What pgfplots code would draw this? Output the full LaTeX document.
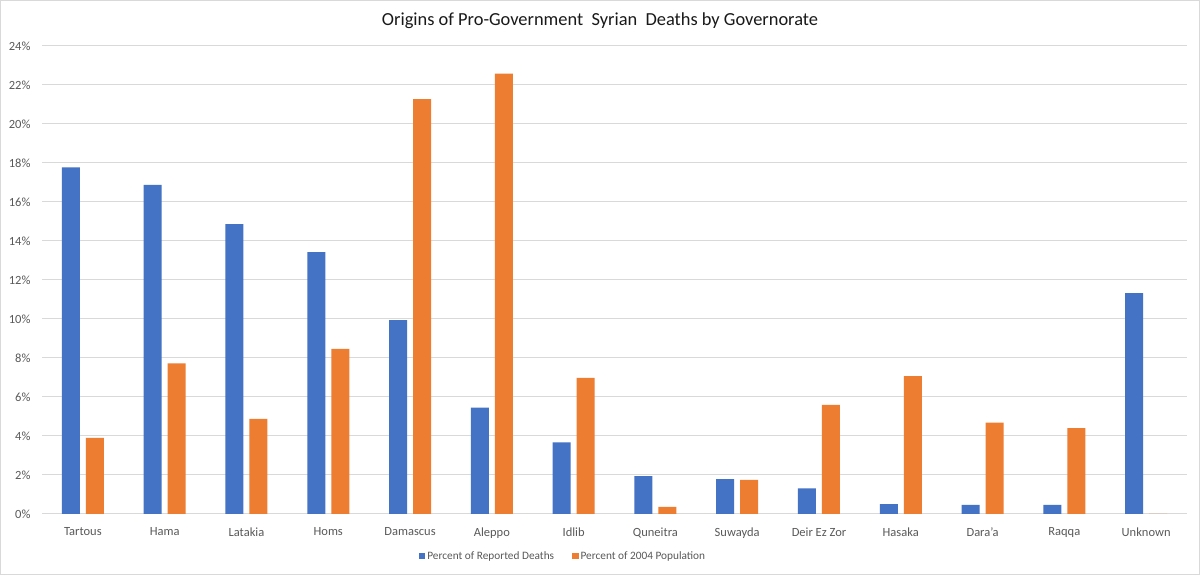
\documentclass[border=0pt]{standalone}
\usepackage{pgfplots}
\pgfplotsset{compat=1.18}
\usepackage{fontspec}
\setmainfont{Carlito}
\definecolor{cblue}{HTML}{4472C4}
\definecolor{corange}{HTML}{ED7D31}
\definecolor{cgrid}{HTML}{D9D9D9}
\definecolor{ctext}{HTML}{595959}
\begin{document}
\begin{tikzpicture}[x=1bp,y=1bp]
\path[use as bounding box] (0,0) rectangle (1200,575);
\fill[white] (0,0) rectangle (1200,575);
\draw[cgrid, line width=1bp] (0.5,0.5) rectangle (1199.5,574.5);
\node[font=\fontsize{18.4bp}{20bp}\selectfont, text=black!90] at (600,554) {Origins of Pro-Government\ \ Syrian\ \ Deaths by Governorate};
\begin{axis}[
  at={(42bp,61bp)}, anchor=south west,
  scale only axis, width=1145bp, height=468bp,
  ybar=6bp, bar width=18bp,
  xmin=-0.5, xmax=13.5, ymin=0, ymax=24,
  xtick=data,
  xticklabels={Tartous,Hama,Latakia,Homs,Damascus,Aleppo,Idlib,Quneitra,Suwayda,Deir Ez Zor,Hasaka,Dara'a,Raqqa,Unknown},
  ytick={0,2,...,24},
  yticklabel={\pgfmathprintnumber{\tick}\%},
  /pgf/number format/assume math mode=true,
  ticklabel style={font=\fontsize{12.5bp}{15bp}\selectfont, text=ctext},
  major tick length=0pt,
  ymajorgrids, grid style={cgrid, line width=1bp},
  axis line style={draw=none},
  axis x line*=bottom,
  x axis line style={draw=cgrid, line width=1bp},
  axis y line*=left, y axis line style={draw=none},
  xticklabel style={yshift=-10bp},
  yticklabel style={xshift=-8bp},
  legend style={at={(0.455,-0.0897)}, anchor=center, draw=none, fill=none,
    legend columns=-1, font=\fontsize{11.3bp}{14bp}\selectfont, text=ctext,
    /tikz/every even column/.append style={column sep=16bp}},
  legend image code/.code={\fill[#1] (0bp,-3.2bp) rectangle (6.5bp,3.3bp);},
]
\addplot[fill=cblue, draw=none] coordinates {
(0,17.78) (1,16.88) (2,14.86) (3,13.43) (4,9.94) (5,5.46) (6,3.67) (7,1.94) (8,1.79) (9,1.31) (10,0.51) (11,0.47) (12,0.47) (13,11.33)};
\addplot[fill=corange, draw=none] coordinates {
(0,3.90) (1,7.72) (2,4.88) (3,8.47) (4,21.27) (5,22.58) (6,6.98) (7,0.36) (8,1.75) (9,5.59) (10,7.07) (11,4.69) (12,4.40) (13,0)};
\legend{Percent of Reported Deaths, Percent of 2004 Population}
\end{axis}
\end{tikzpicture}
\end{document}
